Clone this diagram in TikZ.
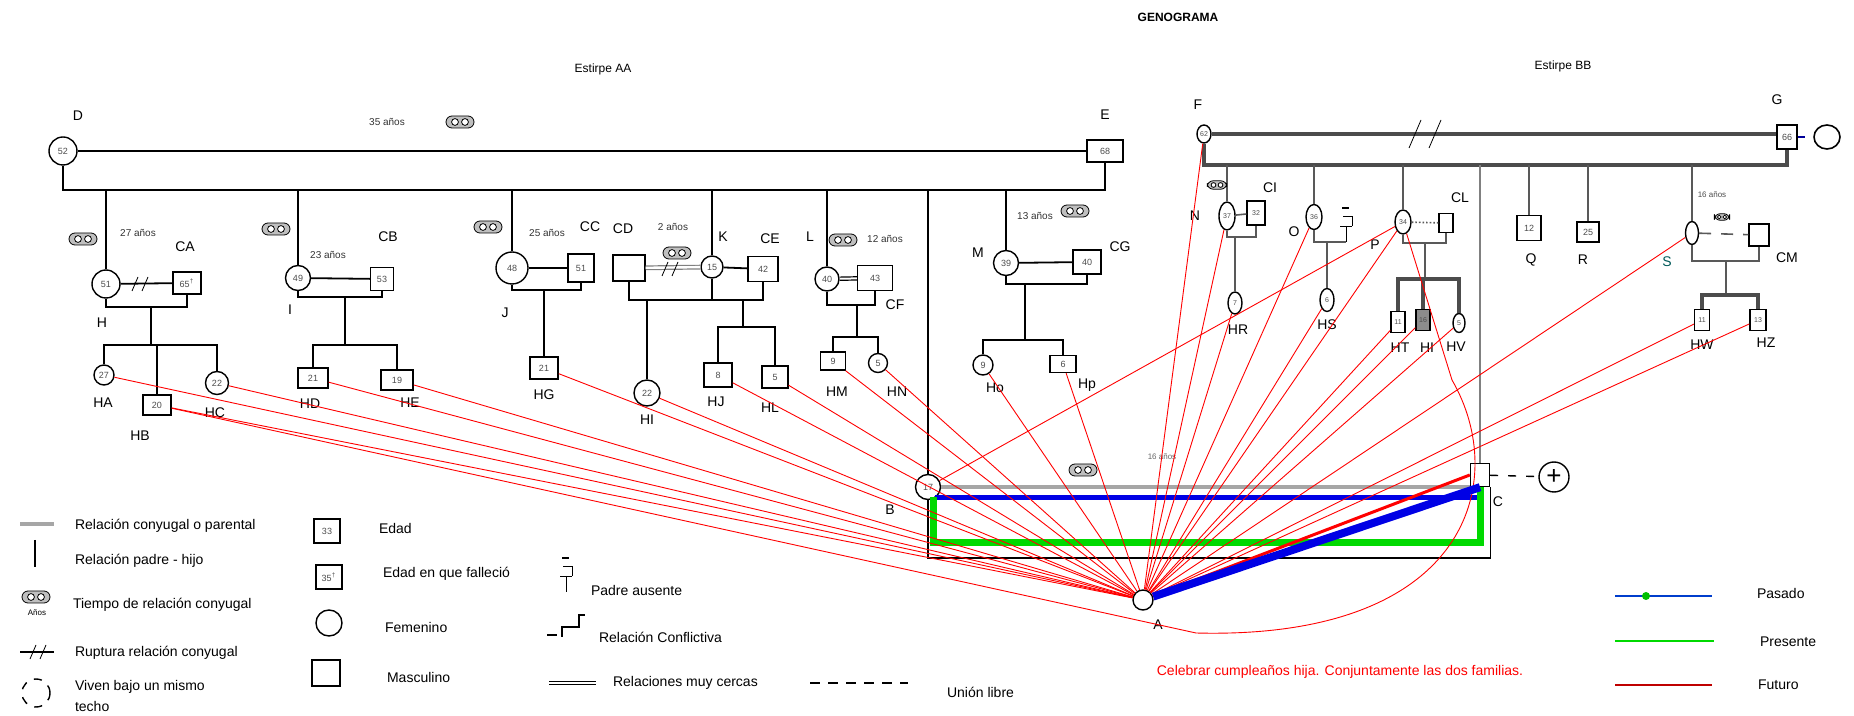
\documentclass[tikz,border=0pt]{standalone}
\usepackage{fontspec}
\setmainfont{Liberation Sans}
\usetikzlibrary{calc,shapes.geometric}
\tikzset{
  anillo/.pic={
    \draw[fill=black!25, rounded corners=3pt] (-7pt,-3pt) rectangle (7pt,3pt);
    \draw[fill=white] (-2.5pt,0) circle (1.7pt) (2.5pt,0) circle (1.7pt);
  },
  ruptura/.pic={
    \draw (-4pt,-3.5pt) -- (-1pt,3.5pt) (1pt,-3.5pt) -- (4pt,3.5pt);
  },
  padreaus/.pic={
    \draw[line width=1.2pt] (-2pt,17pt) -- (1.5pt,17pt);
    \draw (-1.5pt,13pt) -- (3pt,13pt) -- (3pt,8pt);
    \draw (-3pt,8pt) -- (3pt,8pt) (0,8pt) -- (0,0);
  },
}

\begin{document}
\begin{tikzpicture}[x=0.5pt,y=-0.5pt,
  fem/.style={circle, draw, line width=0.7pt, inner sep=0pt, minimum size=12pt,
    font=\fontsize{4.5}{5}\selectfont, text=black!70},
  femb/.style={ellipse, draw, line width=0.7pt, inner sep=0pt, minimum width=7pt,
    minimum height=11pt, font=\fontsize{3.5}{4}\selectfont, text=black!70},
  masc/.style={rectangle, draw, line width=0.7pt, inner sep=0pt, minimum width=14pt,
    minimum height=11pt, font=\fontsize{4.5}{5}\selectfont, text=black!70},
  mascb/.style={masc, minimum width=7pt, minimum height=10.5pt, font=\fontsize{3.5}{4}\selectfont},
  nom/.style={font=\fontsize{7}{8}\selectfont},
  anos/.style={font=\fontsize{5}{6}\selectfont, text=black!80},
  leyenda/.style={font=\fontsize{7}{8}\selectfont, anchor=west},
  rel/.style={line width=0.9pt},
  relg/.style={line width=0.8pt, black!65},
  relb/.style={line width=1.6pt, black!70},
  fut/.style={red, line width=0.45pt},
]
\useasboundingbox (0,0) rectangle (1854,716);

% titulos
\node[font=\bfseries\fontsize{6}{7}\selectfont] (titulo) at (1178,17) {GENOGRAMA};
\node[font=\fontsize{6}{7}\selectfont] (tAA) at (603,69) {Estirpe AA};
\node[font=\fontsize{6}{7}\selectfont] (tBB) at (1563,66) {Estirpe BB};

% estirpe AA
\coordinate (barAA) at (0,190);
\node[fem, minimum size=14pt] (D) at (63,151) {52};
\node[masc, minimum width=18pt] (E) at (1105,151) {68};
\node[nom] (tD) at (78,116) {D};
\node[nom] (tE) at (1105,115) {E};
\draw[rel] (D) -- (E);
\draw[rel] (D.south) -- (D.south |- barAA) -- (E.south |- barAA) -- (E.south);
\node[anos] (a1) at (387,122) {35 años};
\pic at (460,122) {anillo};

\node[fem, minimum size=14pt] (H) at (106,284) {51};
\node[masc] (CA) at (187,283) {65\textsuperscript{\textdagger}};
\draw[rel] (H.north) -- (H.north |- barAA);
\draw[rel] (H) -- (CA);
\pic at (140,284) {ruptura};
\draw[rel] (H.south) |- (151,307) -| (CA.south);
\coordinate (sH) at (151,345);
\draw[rel] (151,307) -- (sH);
\node[fem, minimum size=10pt] (HA) at (104,375) {27};
\node[masc, minimum height=10pt] (HB) at (157,405) {20};
\node[fem, minimum size=11.5pt] (HC) at (217,383) {22};
\draw[rel] (HA.north) |- (sH) -| (HC.north);
\draw[rel] (HB.north) -- (HB.north |- sH);
\node[anos] (a2) at (138,233) {27 años};
\pic at (83,239) {anillo};
\node[nom] (tCA) at (185,247) {CA};
\node[nom] (tH) at (102,323) {H};
\node[nom] (tHA) at (103,403) {HA};
\node[nom] (tHB) at (140,436) {HB};
\node[nom] (tHC) at (215,413) {HC};

\node[fem, minimum size=12.5pt] (I) at (298,278) {49};
\node[masc, minimum width=11.5pt, minimum height=11.5pt] (CB) at (382,279) {53};
\draw[rel] (I.north) -- (I.north |- barAA);
\draw[rel] (I) -- (CB);
\draw[rel] (I.south) |- (345,297) -| (CB.south);
\coordinate (sI) at (345,345);
\draw[rel] (345,297) -- (sI);
\node[masc, minimum width=15pt, minimum height=10pt] (HD) at (313,378) {21};
\node[masc, minimum width=16pt, minimum height=10pt] (HE) at (397,380) {19};
\draw[rel] (HD.north) |- (sI) -| (HE.north);
\node[anos] (a3) at (328,255) {23 años};
\pic at (276,229) {anillo};
\node[nom] (tCB) at (388,237) {CB};
\node[nom] (tI) at (290,310) {I};
\node[nom] (tHD) at (310,404) {HD};
\node[nom] (tHE) at (410,403) {HE};

\node[fem, minimum size=16pt] (J) at (512,268) {48};
\node[masc, minimum width=13pt, minimum height=14pt] (CC) at (581,268) {51};
\draw[rel] (J.north) -- (J.north |- barAA);
\draw[rel] (J) -- (CC);
\draw[rel] (J.south) |- (544,290) -| (CC.south);
\node[masc, minimum height=11pt] (HG) at (544,368) {21};
\draw[rel] (544,290) -- (HG.north);
\node[anos] (a4) at (547,233) {25 años};
\pic at (488,227) {anillo};
\node[nom] (tCC) at (590,227) {CC};
\node[nom] (tJ) at (505,313) {J};
\node[nom] (tHG) at (544,395) {HG};

\node[masc, minimum width=16pt, minimum height=13pt] (CD) at (629,268) {};
\node[fem, minimum size=11pt] (K) at (712,267) {15};
\node[masc, minimum width=15pt, minimum height=12.5pt] (CE) at (763,269) {42};
\draw[rel] (K.north) -- (K.north |- barAA);
\draw[gray, line width=0.6pt, double, double distance=1.2pt] (CD) -- (K);
\pic at (670,269) {ruptura};
\draw[rel] (K) -- (CE);
\draw[rel] (CD.south) |- (743,300) -| (CE.south);
\draw[rel] (K.south) -- (K.south |- CE.south);
\draw[rel] (K.south |- CE.south) -- (K.south |- 0,300);
\node[fem, minimum size=13pt] (HI) at (647,393) {22};
\draw[rel] (HI.north) -- (HI.north |- 0,300);
\coordinate (sK) at (743,327);
\draw[rel] (743,300) -- (sK);
\node[masc, minimum height=12pt] (HJ) at (718,375) {8};
\node[masc, minimum width=13pt] (HL) at (775,377) {5};
\draw[rel] (HJ.north) |- (sK) -| (HL.north);
\node[nom] (tCD) at (623,229) {CD};
\node[anos] (a5) at (673,227) {2 años};
\pic at (677,253) {anillo};
\node[nom] (tK) at (723,237) {K};
\node[nom] (tCE) at (770,239) {CE};
\node[nom] (tHI) at (647,420) {HI};
\node[nom] (tHJ) at (716,402) {HJ};
\node[nom] (tHL) at (770,408) {HL};

\node[fem, minimum size=12pt] (L) at (827,279) {40};
\node[masc, minimum width=17.5pt, minimum height=12.5pt] (CF) at (875,278) {43};
\draw[rel] (L.north) -- (L.north |- barAA);
\draw[line width=0.6pt, double, double distance=1pt] (L) -- (CF);
\draw[rel] (L.south) |- (857,305) -| (CF.south);
\coordinate (sL) at (857,337);
\draw[rel] (857,305) -- (sL);
\node[masc, minimum width=12.5pt, minimum height=9pt] (HM) at (833,361) {9};
\node[fem, minimum size=9.5pt] (HN) at (878,363) {5};
\draw[rel] (HM.north) |- (sL) -| (HN.north);
\node[nom] (tL) at (810,237) {L};
\pic at (843,240) {anillo};
\node[anos] (a6) at (885,239) {12 años};
\node[nom] (tCF) at (895,305) {CF};
\node[nom] (tHM) at (837,392) {HM};
\node[nom] (tHN) at (897,392) {HN};

\node[fem, minimum size=12.5pt] (M) at (1006,263) {39};
\node[masc, minimum height=12pt] (CG) at (1087,262) {40};
\draw[rel] (M.north) -- (M.north |- barAA);
\draw[rel] (M) -- (CG);
\draw[rel] (M.south) |- (1025,284) -| (CG.south);
\coordinate (sM) at (1025,340);
\draw[rel] (1025,284) -- (sM);
\node[fem, minimum size=10pt] (Ho) at (983,365) {9};
\node[masc, minimum width=13pt, minimum height=8.5pt] (Hp) at (1063,364) {6};
\draw[rel] (Ho.north) |- (sM) -| (Hp.north);
\node[nom] (tM) at (978,253) {M};
\node[anos] (a7) at (1035,216) {13 años};
\pic at (1075,211) {anillo};
\node[nom] (tCG) at (1120,247) {CG};
\node[nom] (tHo) at (995,388) {Ho};
\node[nom] (tHp) at (1087,385) {Hp};

\node[fem, minimum size=12.5pt] (B) at (928,487) {17};
\draw[rel] (B.north) -- (B.north |- barAA);
\node[nom] (tB) at (890,510) {B};

% estirpe BB
\coordinate (barBB) at (0,165);
\node[femb, minimum width=7pt, minimum height=9pt] (F) at (1204,134) {62};
\node[masc, minimum width=10pt, minimum height=12pt] (G) at (1787,137) {66};
\node[ellipse, draw, line width=0.8pt, minimum width=13pt, minimum height=12pt] (Gp) at (1827,137) {};
\node[nom] (tF) at (1198,105) {F};
\node[nom] (tG) at (1777,100) {G};
\draw[relb] (F.east) -- (G.west |- F.east);
\pic[scale=2] at (1425,134) {ruptura};
\draw[relb] (F.south) |- (G.south |- barBB) -- (G.south);
\draw[blue!60!black, line width=0.8pt, shorten >=4pt] (G) -- (Gp);

\node[femb, minimum width=8pt, minimum height=14pt] (N) at (1227,216) {37};
\node[mascb, minimum width=9pt, minimum height=12pt] (CI) at (1256,213) {32};
\draw[relg] (N.north) -- (N.north |- barBB);
\draw[relg] (N) -- (CI);
\draw[relg] (N.south) |- (1235,237) -| (CI.south);
\node[femb] (HR) at (1235,303) {7};
\draw[relg] (1235,237) -- (HR.north);
\pic[scale=0.7] at (1217,185) {anillo};
\node[nom] (tN) at (1195,216) {N};
\node[nom] (tCI) at (1270,188) {CI};
\node[nom] (tHR) at (1238,330) {HR};

\node[femb, minimum width=8pt, minimum height=12.5pt] (O) at (1314,217) {36};
\draw[relg] (O.north) -- (O.north |- barBB);
\pic at (1346,242) {padreaus};
\draw[relg] (O.south) |- (1346,242);
\node[femb, minimum height=11.5pt] (HS) at (1327,300) {6};
\draw[relg] (1327,242) -- (HS.north);
\node[nom] (tO) at (1294,232) {O};
\node[nom] (tHS) at (1327,325) {HS};

\node[femb, minimum width=8pt, minimum height=12pt] (P) at (1403,222) {34};
\node[mascb, minimum width=7pt, minimum height=9.5pt] (CL) at (1446,223) {};
\draw[relg] (P.north) -- (P.north |- barBB);
\draw[relg, densely dotted] (P) -- (CL);
\draw[relg] (P.south) |- (1425,243) -| (CL.south);
\coordinate (sP) at (1425,279);
\draw[relg] (1425,243) -- (sP);
\node[mascb] (HT) at (1398,322) {11};
\node[mascb, fill=black!45] (HIb) at (1423,320) {16};
\node[femb, minimum width=6pt, minimum height=9.5pt] (HV) at (1459,323) {5};
\draw[relb] (HT.north) |- (sP) -| (HV.north);
\draw[relb] (HIb.north) -- (HIb.north |- sP);
\node[nom] (tP) at (1375,245) {P};
\node[nom] (tCL) at (1460,198) {CL};
\node[nom] (tHT) at (1400,348) {HT};
\node[nom] (tHIb) at (1427,348) {HI};
\node[nom] (tHV) at (1456,347) {HV};

\node[masc, minimum width=9.5pt, minimum height=11.5pt] (C) at (1480,475) {};
\node[circle, draw, line width=0.7pt, inner sep=0pt, minimum size=15pt,
  font=\fontsize{13}{13}\selectfont] (Cp) at (1554,477) {+};
\draw[gray, line width=0.8pt] (C.north) -- (C.north |- barBB);
\draw[line width=0.7pt, dash pattern=on 4pt off 5pt] (C) -- (Cp);
\node[nom] (tC) at (1498,502) {C};

\node[masc, minimum width=12pt, minimum height=12.5pt] (Q) at (1529,228) {12};
\node[masc, minimum width=11pt, minimum height=10pt] (R) at (1588,232) {25};
\draw[relg] (Q.north) -- (Q.north |- barBB);
\draw[relg] (R.north) -- (R.north |- barBB);
\node[nom] (tQ) at (1531,260) {Q};
\node[nom] (tR) at (1583,260) {R};

\node[femb, minimum width=6.5pt, minimum height=11.5pt] (S) at (1692,233) {};
\node[mascb, minimum width=10pt, minimum height=11pt] (CM) at (1759,235) {};
\draw[relg] (S.north) -- (S.north |- barBB);
\draw[relg, dash pattern=on 6pt off 5pt] (S) -- (CM);
\draw[relg] (S.south) |- (1726,261) -| (CM.south);
\coordinate (sS) at (1726,295);
\draw[relg] (1726,261) -- (sS);
\node[mascb, minimum width=7.5pt] (HW) at (1702,320) {11};
\node[mascb, minimum width=8pt] (HZ) at (1758,320) {13};
\draw[relb] (HW.north) |- (sS) -| (HZ.north);
\node[font=\fontsize{4}{5}\selectfont, text=black!70] (a9) at (1712,195) {16 años};
\pic[scale=0.55] at (1722,217) {anillo};
\node[nom, text=teal!70!black] (tS) at (1667,262) {S};
\node[nom] (tCM) at (1787,258) {CM};
\node[nom] (tHW) at (1702,345) {HW};
\node[nom] (tHZ) at (1766,343) {HZ};

% pareja B y C
\node[fem, minimum size=10pt] (A) at (1143,600) {};
\node[nom] (tA) at (1158,625) {A};
\draw[gray!70, line width=2pt] (B.east) -- (B.east -| C.west);
\draw[blue!90!black, line width=2.5pt] (935,498) -- (C.south |- 0,498);
\draw[green!85!black, line width=3.5pt] (933,497) |- (C.south |- 0,543) -- (C.south);
\draw[line width=0.7pt] (B.south) |- (C.south east |- 0,558) -- (C.south east);
\node[font=\fontsize{4}{5}\selectfont, text=black!60] (a8) at (1162,457) {16 años};
\pic at (1083,470) {anillo};

% futuro
\draw[fut] (HA) -- (A);
\draw[fut] (HB) -- (A);
\draw[fut] (HC) -- (A);
\draw[fut] (HD) -- (A);
\draw[fut] (HE) -- (A);
\draw[fut] (HG) -- (A);
\draw[fut] (HI) -- (A);
\draw[fut] (HJ) -- (A);
\draw[fut] (HL) -- (A);
\draw[fut] (HM) -- (A);
\draw[fut] (HN) -- (A);
\draw[fut] (Ho) -- (A);
\draw[fut] (Hp) -- (A);
\draw[fut] (F) -- (A);
\draw[fut] (N) -- (A);
\draw[fut] (HR) -- (A);
\draw[fut] (O) -- (A);
\draw[fut] (HS) -- (A);
\draw[fut] (P) -- (A);
\draw[fut] (HT) -- (A);
\draw[fut] (HIb) -- (A);
\draw[fut] (HV) -- (A);
\draw[fut] (S) -- (A);
\draw[fut] (HW) -- (A);
\draw[fut] (HZ) -- (A);
\draw[fut] (B) -- (P);
\draw[fut] (HB) -- (1196,633) .. controls (1470,640) and (1510,480) .. (1452,380) -- (P);
\draw[red, line width=1.5pt] (A) -- (C.west);
\draw[blue!90!black, line width=4pt] (A) -- (C.south);
\node[nom, text=red] (tFiesta) at (1340,672) {Celebrar cumpleaños hija. Conjuntamente las dos familias.};

% leyenda
\draw[gray!70, line width=2pt] (20,524) -- (54,524);
\node[leyenda] (l1) at (68,526) {Relación conyugal o parental};
\draw[rel] (35,540) -- (35,567);
\node[leyenda] (l2) at (68,561) {Relación padre - hijo};
\pic at (36,597) {anillo};
\node[font=\fontsize{4}{5}\selectfont] (lAnios) at (37,613) {Años};
\node[leyenda] (l3) at (66,605) {Tiempo de relación conyugal};
\draw[rel] (20,652) -- (54,652);
\pic at (38,652) {ruptura};
\node[leyenda] (l4) at (68,653) {Ruptura relación conyugal};
\draw[line width=0.7pt, dash pattern=on 4pt off 4pt] (36,693) circle (7pt);
\node[leyenda] (l5) at (68,687) {Viven bajo un mismo};
\node[leyenda] (l6) at (68,706) {techo};

\node[masc, minimum width=13pt, minimum height=12pt] (s1) at (327,531) {33};
\node[leyenda] (l7) at (372,528) {Edad};
\node[masc, minimum width=13pt, minimum height=12pt] (s2) at (329,577) {35\textsuperscript{\textdagger}};
\node[leyenda] (l8) at (376,574) {Edad en que falleció};
\node[fem, minimum size=13pt] (s3) at (329,623) {};
\node[leyenda] (l9) at (378,627) {Femenino};
\node[masc, minimum width=14pt, minimum height=13pt] (s4) at (326,673) {};
\node[leyenda] (l10) at (380,677) {Masculino};

\pic at (566,592) {padreaus};
\node[leyenda] (l11) at (584,590) {Padre ausente};
\draw[line width=0.7pt] (547,635) -- (557,635) (562,637) -- (562,627) -- (579,627) -- (579,615) -- (585,615);
\node[leyenda] (l12) at (592,637) {Relación Conflictiva};
\draw[line width=0.6pt, double, double distance=1.2pt] (549,683) -- (596,683);
\node[leyenda] (l13) at (606,683) {Relaciones muy cercas};
\draw[line width=0.7pt, dash pattern=on 5pt off 4pt] (810,683) -- (908,683);
\node[leyenda] (l14) at (940,692) {Unión libre};

\draw[blue!70!cyan!80!black, line width=0.8pt] (1615,596) -- (1712,596);
\fill[green!75!black] (1646,596) circle (2pt);
\node[leyenda] (l15) at (1750,593) {Pasado};
\draw[green!85!black, line width=1pt] (1615,641) -- (1714,641);
\node[leyenda] (l16) at (1753,642) {Presente};
\draw[red!75!black, line width=1pt] (1615,685) -- (1712,685);
\node[leyenda] (l17) at (1751,685) {Futuro};
\end{tikzpicture}
\end{document}
